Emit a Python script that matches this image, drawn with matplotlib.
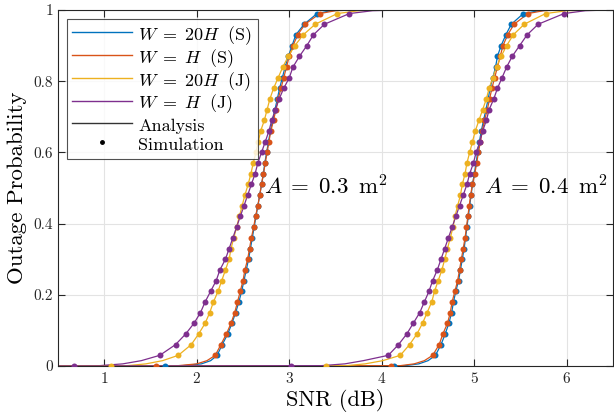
import numpy as np
import matplotlib
matplotlib.use("Agg")
import matplotlib.pyplot as plt
from matplotlib.lines import Line2D

plt.rcParams['font.family'] = 'serif'
plt.rcParams['font.serif'] = ['cmr10']
plt.rcParams['mathtext.fontset'] = 'cm'
plt.rcParams['axes.formatter.use_mathtext'] = True

# simulation markers: outage probability levels, SNR
p_sim = [0.0] + [round(0.03 * k, 2) for k in range(1, 34)]

# A = 0.3 m^2
snr_blue_03 = [1.66, 2.22, 2.275, 2.335, 2.38, 2.42, 2.455, 2.485, 2.51, 2.535, 2.56, 2.58, 2.60,
               2.62, 2.64, 2.66, 2.68, 2.70, 2.72, 2.735, 2.755, 2.775, 2.795, 2.82, 2.845,
               2.87, 2.895, 2.925, 2.955, 2.99, 3.03, 3.07, 3.16, 3.30]
snr_orange_03 = [1.56, 2.20, 2.26, 2.32, 2.37, 2.41, 2.44, 2.47, 2.50, 2.52, 2.55, 2.57, 2.59,
                 2.615, 2.635, 2.66, 2.68, 2.70, 2.72, 2.74, 2.76, 2.78, 2.80, 2.83, 2.855,
                 2.88, 2.91, 2.94, 2.97, 3.00, 3.04, 3.09, 3.17, 3.33]
snr_yellow_03 = [1.07, 1.80, 1.94, 2.02, 2.09, 2.14, 2.18, 2.23, 2.27, 2.31, 2.35, 2.37, 2.40,
                 2.43, 2.46, 2.49, 2.52, 2.555, 2.585, 2.61, 2.64, 2.665, 2.69, 2.73, 2.76,
                 2.79, 2.83, 2.88, 2.93, 2.99, 3.06, 3.15, 3.28, 3.52]
snr_purple_03 = [0.67, 1.60, 1.77, 1.88, 1.97, 2.04, 2.09, 2.15, 2.21, 2.25, 2.31, 2.35, 2.39,
                 2.43, 2.47, 2.51, 2.55, 2.59, 2.63, 2.66, 2.70, 2.74, 2.78, 2.81, 2.85,
                 2.89, 2.94, 3.00, 3.04, 3.11, 3.19, 3.26, 3.38, 3.65]

# A = 0.4 m^2
snr_blue_04 = [4.13, 4.58, 4.64, 4.685, 4.725, 4.755, 4.775, 4.80, 4.83, 4.85, 4.87, 4.89, 4.905,
               4.92, 4.935, 4.95, 4.965, 4.98, 5.00, 5.02, 5.035, 5.055, 5.075, 5.10, 5.125,
               5.15, 5.17, 5.20, 5.23, 5.25, 5.29, 5.34, 5.40, 5.53]
snr_orange_04 = [4.10, 4.55, 4.62, 4.66, 4.71, 4.74, 4.76, 4.79, 4.82, 4.84, 4.86, 4.88, 4.90,
                 4.915, 4.93, 4.945, 4.96, 4.98, 5.005, 5.025, 5.045, 5.065, 5.085, 5.11, 5.14,
                 5.165, 5.19, 5.22, 5.25, 5.28, 5.31, 5.36, 5.43, 5.58]
snr_yellow_04 = [3.40, 4.20, 4.30, 4.38, 4.44, 4.49, 4.54, 4.57, 4.61, 4.65, 4.68, 4.71, 4.74,
                 4.77, 4.79, 4.82, 4.85, 4.87, 4.90, 4.92, 4.95, 4.98, 5.01, 5.05, 5.09,
                 5.13, 5.16, 5.20, 5.24, 5.29, 5.35, 5.42, 5.54, 5.77]
snr_purple_04 = [3.02, 4.07, 4.18, 4.27, 4.34, 4.41, 4.46, 4.51, 4.55, 4.60, 4.64, 4.68, 4.72,
                 4.76, 4.80, 4.84, 4.88, 4.92, 4.95, 4.99, 5.02, 5.06, 5.09, 5.13, 5.16,
                 5.21, 5.25, 5.30, 5.35, 5.41, 5.49, 5.57, 5.69, 5.97]

# analysis tails (lower and upper ends of each curve)
tail_lo_p = [0.0, 0.001, 0.006, 0.015]
tail_hi_p = [0.998, 1.0, 1.0]
tails = {
    'blue_03':   ([0.5, 1.85, 2.05, 2.15], [3.45, 3.65, 6.5]),
    'orange_03': ([0.5, 1.80, 2.00, 2.11], [3.50, 3.70, 6.5]),
    'yellow_03': ([0.5, 1.25, 1.45, 1.63], [3.75, 4.00, 6.5]),
    'purple_03': ([0.5, 0.95, 1.20, 1.40], [3.90, 4.20, 6.5]),
    'blue_04':   ([0.5, 4.25, 4.40, 4.50], [5.70, 5.90, 6.5]),
    'orange_04': ([0.5, 4.20, 4.35, 4.46], [5.75, 5.95, 6.5]),
    'yellow_04': ([0.5, 3.62, 3.82, 4.01], [6.00, 6.30, 6.5]),
    'purple_04': ([0.5, 3.35, 3.60, 3.80], [6.20, 6.45, 6.5]),
}

colors = {'blue': '#0072BD', 'orange': '#D95319', 'yellow': '#EDB120', 'purple': '#7E2F8E'}
curves = [
    ('blue_03', 'blue', snr_blue_03), ('orange_03', 'orange', snr_orange_03),
    ('yellow_03', 'yellow', snr_yellow_03), ('purple_03', 'purple', snr_purple_03),
    ('blue_04', 'blue', snr_blue_04), ('orange_04', 'orange', snr_orange_04),
    ('yellow_04', 'yellow', snr_yellow_04), ('purple_04', 'purple', snr_purple_04),
]

fig = plt.figure(figsize=(6.14, 4.18), dpi=100)
ax = fig.add_axes([0.0945, 0.1244, 0.904, 0.8517])

for name, col, snr in curves:
    lo_x, hi_x = tails[name]
    x_line = lo_x + snr[1:] + hi_x
    y_line = tail_lo_p + p_sim[1:] + tail_hi_p
    ax.plot(x_line, y_line, '-', color=colors[col], lw=0.9, zorder=2)
    ax.plot(snr, p_sim, 'o', color=colors[col], ms=4.3, mec='none', zorder=3)

ax.text(2.73, 0.505, r'$A\;=\;0.3\;\;\mathrm{m}^2$', fontsize=16.5, va='center')
ax.text(5.11, 0.505, r'$A\;=\;0.4\;\;\mathrm{m}^2$', fontsize=16.5, va='center')

ax.set_xlim(0.5, 6.5)
ax.set_ylim(0, 1)
ax.set_xticks([1, 2, 3, 4, 5, 6])
ax.set_yticks([0, 0.2, 0.4, 0.6, 0.8, 1])
ax.set_yticklabels(['0', '0.2', '0.4', '0.6', '0.8', '1'])
ax.grid(True, color='#e3e3e3', lw=0.8)
ax.set_axisbelow(True)
ax.tick_params(direction='in', top=True, right=True, labelsize=11, colors='#262626', length=5)
for s in ax.spines.values():
    s.set_color('#262626')
    s.set_linewidth(0.8)
ax.set_xlabel('SNR (dB)', fontsize=16, labelpad=2)
ax.set_ylabel('Outage Probability', fontsize=16.5, labelpad=5)

handles = [Line2D([], [], color=colors['blue'], lw=1),
           Line2D([], [], color=colors['orange'], lw=1),
           Line2D([], [], color=colors['yellow'], lw=1),
           Line2D([], [], color=colors['purple'], lw=1),
           Line2D([], [], color='#333333', lw=1),
           Line2D([], [], color='k', marker='.', ls='none', ms=5)]
labels = [r'$W\;=\;20H\;$ (S)', r'$W\;=\;H\;$ (S)', r'$W\;=\;20H\;$ (J)', r'$W\;=\;H\;$ (J)',
          'Analysis', 'Simulation']
leg = ax.legend(handles, labels, loc='upper left', fontsize=13, frameon=True, fancybox=False,
                edgecolor='#262626', handlelength=3.3, handleheight=1.25, handletextpad=0.35,
                labelspacing=0.0, borderpad=0.3, borderaxespad=0.5)
leg.get_frame().set_linewidth(0.8)

fig.savefig('out.png', dpi=100)
